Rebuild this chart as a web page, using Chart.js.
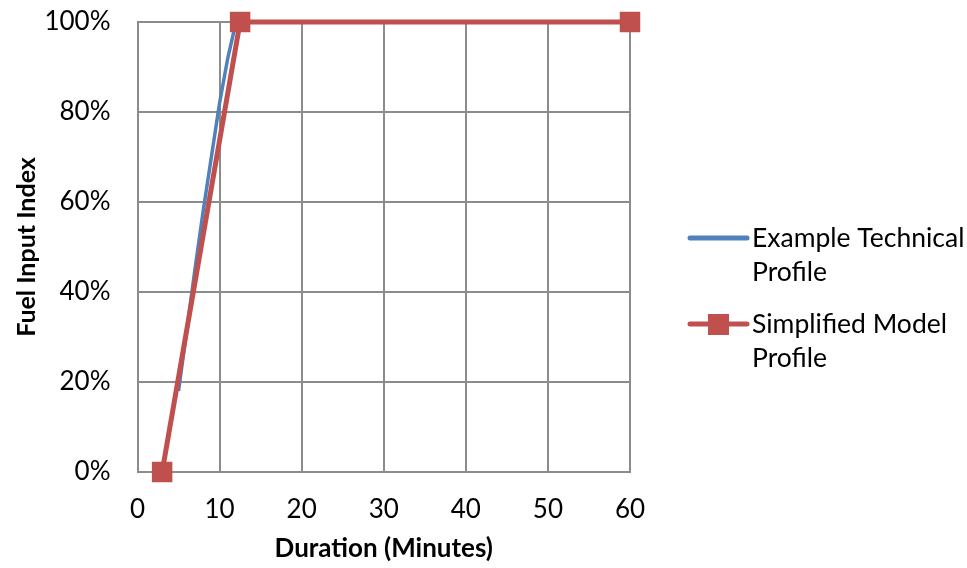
<!DOCTYPE html>
<html>
<head>
<meta charset="utf-8">
<script src="https://cdn.jsdelivr.net/npm/chart.js@4"></script>
<style>
  html, body { margin: 0; padding: 0; background: #fff; }
  #wrap { width: 967px; height: 568px; position: relative; }
</style>
</head>
<body>
<div id="wrap"><canvas id="chart" width="967" height="568"></canvas></div>
<script>
// minutes vs fuel input index (fraction)
const technicalX = [5, 7, 8, 9, 10, 11, 12, 60];
const technicalY = [0.18, 0.45, 0.58, 0.70, 0.82, 0.92, 1.0, 1.0];
const simplifiedX = [3, 12.5, 60];
const simplifiedY = [0, 1.0, 1.0];

const xTicks = [0, 10, 20, 30, 40, 50, 60];
const yTicks = [0, 0.2, 0.4, 0.6, 0.8, 1.0];

const legendItems = [
  { lines: ["Example Technical", "Profile"], color: "#4F81BD", marker: false },
  { lines: ["Simplified Model", "Profile"], color: "#C0504D", marker: true }
];

const FONT = "Lato, 'Liberation Sans', sans-serif";
const GRID = "#8c8c8c";

const toPoints = (xs, ys) => xs.map((x, i) => ({ x, y: ys[i] }));

const sideLegend = {
  id: "sideLegend",
  afterDraw(chart) {
    const ctx = chart.ctx;
    ctx.save();
    ctx.font = `26.5px ${FONT}`;
    ctx.textBaseline = "middle";
    ctx.fillStyle = "#000";
    let y = 238;
    legendItems.forEach((item) => {
      ctx.strokeStyle = item.color;
      ctx.lineWidth = 5;
      ctx.lineCap = "round";
      ctx.beginPath();
      ctx.moveTo(690, y);
      ctx.lineTo(747, y);
      ctx.stroke();
      if (item.marker) {
        ctx.fillStyle = item.color;
        ctx.fillRect(708, y - 10, 21, 21);
        ctx.fillStyle = "#000";
      }
      item.lines.forEach((line, i) => ctx.fillText(line, 752, y + i * 34));
      y += 86;
    });
    ctx.restore();
  }
};

new Chart(document.getElementById("chart"), {
  type: "line",
  data: {
    datasets: [
      {
        label: "Example Technical Profile",
        data: toPoints(technicalX, technicalY),
        borderColor: "#4F81BD",
        borderWidth: 3.5,
        pointRadius: 0,
        tension: 0,
        order: 2
      },
      {
        label: "Simplified Model Profile",
        data: toPoints(simplifiedX, simplifiedY),
        borderColor: "#C0504D",
        backgroundColor: "#C0504D",
        borderWidth: 5,
        pointStyle: "rect",
        pointRadius: 14.5,
        pointBorderWidth: 0,
        clip: false,
        tension: 0,
        order: 1
      }
    ]
  },
  options: {
    responsive: false,
    animation: false,
    layout: { autoPadding: false, padding: { top: 22, right: 337, bottom: 0, left: 0 } },
    plugins: { legend: { display: false }, tooltip: { enabled: false } },
    scales: {
      x: {
        type: "linear",
        min: 0,
        max: 60,
        afterFit: (s) => { s.height = 96; },
        afterBuildTicks: (s) => { s.ticks = xTicks.map((v) => ({ value: v })); },
        grid: { color: GRID, lineWidth: 2, drawTicks: false },
        border: { color: GRID, width: 2 },
        ticks: { color: "#000", padding: 22, font: { family: FONT, size: 26 } },
        title: { display: true, text: "Duration (Minutes)", color: "#000", padding: { top: 0, bottom: 4 }, font: { family: FONT, size: 26, weight: "bold" } }
      },
      y: {
        min: 0,
        max: 1,
        afterFit: (s) => { s.width = 137.5; },
        afterBuildTicks: (s) => { s.ticks = yTicks.map((v) => ({ value: v })); },
        grid: { color: GRID, lineWidth: 2, drawTicks: true, tickLength: 27, tickColor: "rgba(0,0,0,0)" },
        border: { color: GRID, width: 2 },
        ticks: { color: "#000", padding: 0, font: { family: FONT, size: 26 }, callback: (v) => Math.round(v * 100) + "%" },
        title: { display: true, text: "Fuel Input Index", color: "#000", padding: { top: 12, bottom: 0 }, font: { family: FONT, size: 25, weight: "bold" } }
      }
    }
  },
  plugins: [sideLegend]
});
</script>
</body>
</html>
